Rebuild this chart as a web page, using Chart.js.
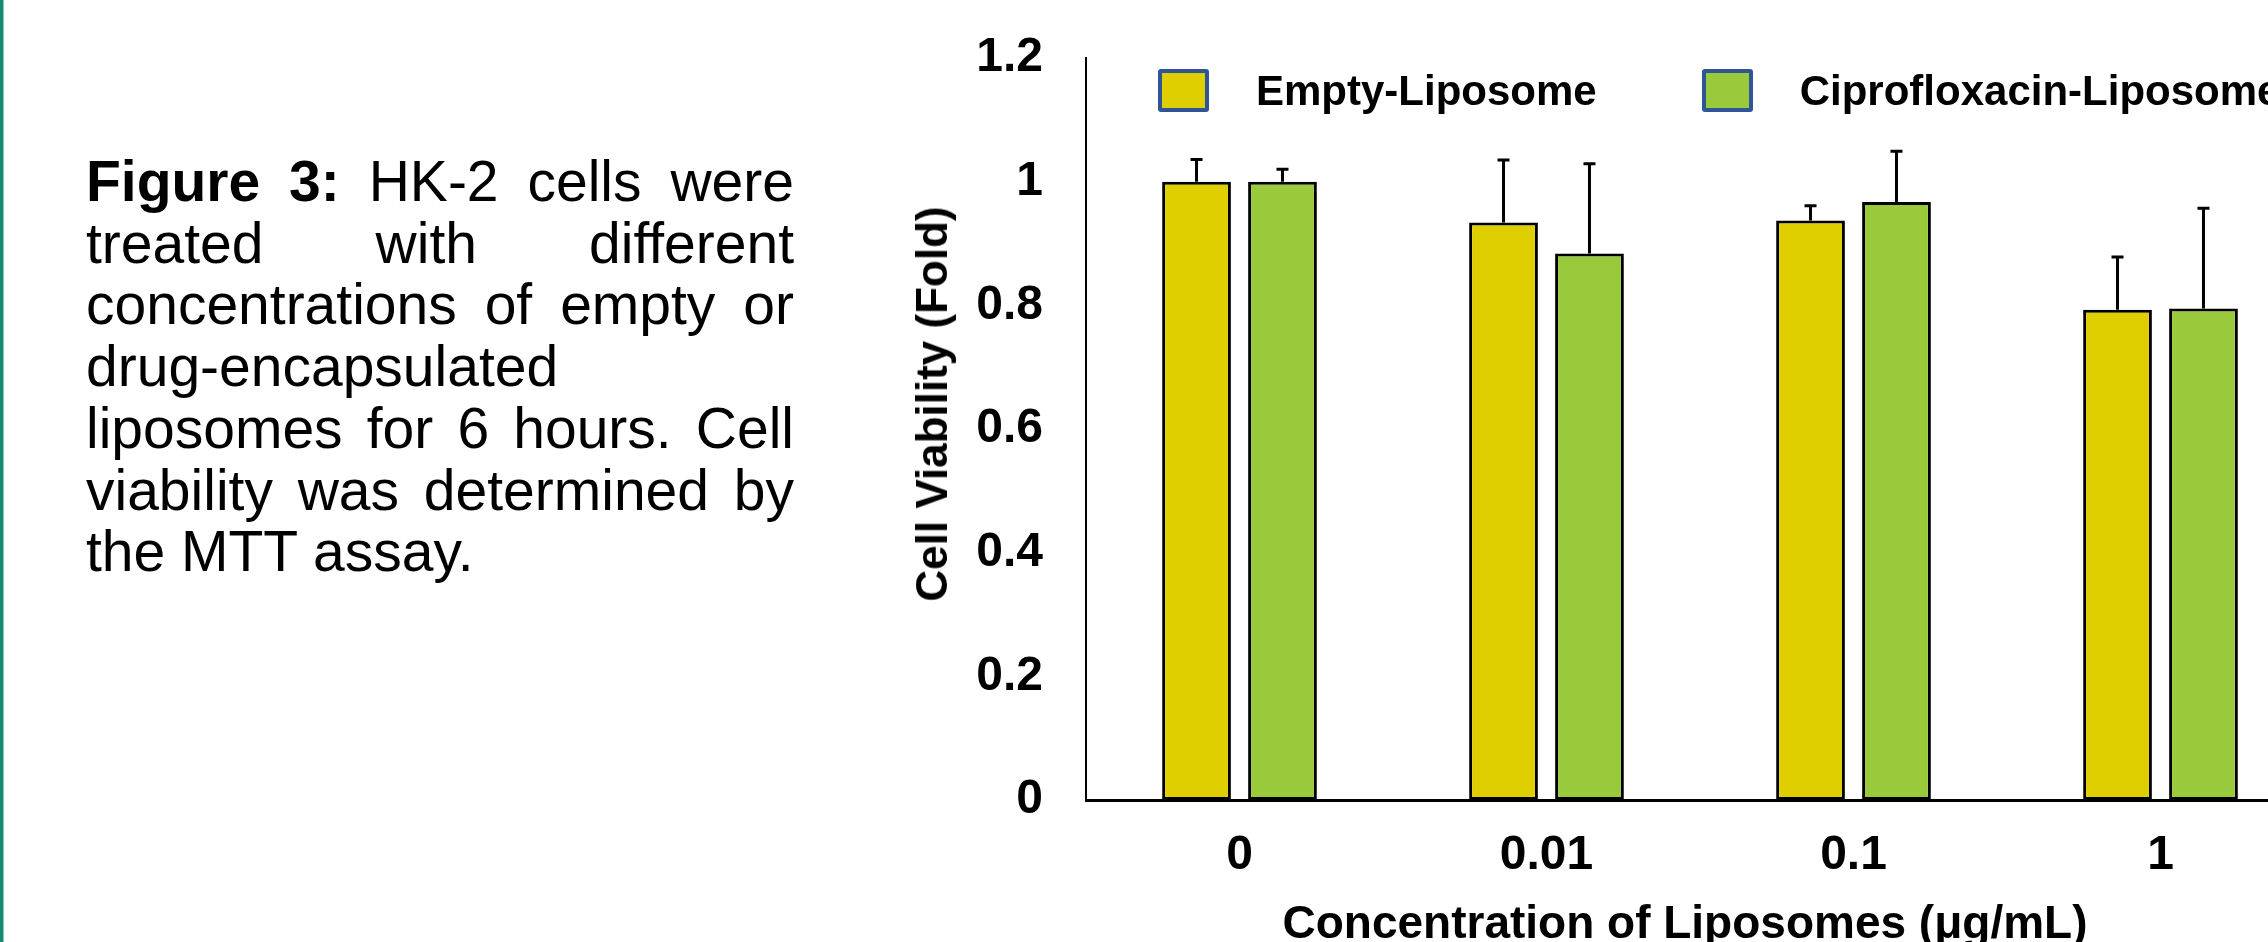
<!DOCTYPE html>
<html lang="en">
<head>
    <title>Figure 3 - Cell Viability</title>
    <script src="https://cdn.jsdelivr.net/npm/chart.js"></script>
    <style>
        html, body { margin: 0; padding: 0; background: #fff; }
        body { width: 2268px; height: 942px; overflow: hidden; position: relative; font-family: "Liberation Sans", Arial, sans-serif; }
        #edge { position: absolute; left: 0; top: 0; width: 3px; height: 942px; background: #178b6f; border-right: 1px solid #8cc5b5; }
        #caption { position: absolute; left: 86px; top: 151px; width: 708px; font-size: 57px; line-height: 61.7px; text-align: justify; color: #000; }
        #chart-container { position: absolute; left: 900px; top: 0; width: 1500px; height: 942px; }
        .axis-title { position: absolute; font-weight: bold; color: #000; white-space: nowrap; }
        #ytitle { left: 932px; top: 404px; font-size: 44px; line-height: 44px; transform: translate(-50%, -50%) rotate(-90deg); }
        #xtitle { left: 1685px; top: 899px; font-size: 46px; line-height: 46px; transform: translateX(-50%); }
        #legend { position: absolute; left: 1158px; top: 69px; display: flex; font-size: 42px; font-weight: bold; line-height: 43px; white-space: nowrap; }
        .legend-item { display: flex; margin-right: 105px; }
        .legend-box { width: 51px; height: 43px; box-sizing: border-box; border: 4px solid #2f5597; border-radius: 3px; margin-right: 47px; }
    </style>
</head>
<body>
    <div id="edge"></div>
    <div id="caption"><b>Figure 3:</b> HK-2 cells were treated with different concentrations of empty or drug-encapsulated liposomes for 6 hours. Cell viability was determined by the MTT assay.</div>

    <div id="chart-container">
        <canvas id="chart"></canvas>
    </div>
    <div id="ytitle" class="axis-title">Cell Viability (Fold)</div>
    <div id="xtitle" class="axis-title">Concentration of Liposomes (μg/mL)</div>
    <div id="legend"></div>

    <script>
        // values
        var concentrations = ['0', '0.01', '0.1', '1'];
        var seriesNames = ['Empty-Liposome', 'Ciprofloxacin-Liposome'];
        var emptyViability = [1.0, 0.934, 0.937, 0.793];
        var emptyError = [0.036, 0.101, 0.024, 0.085];
        var ciproViability = [1.0, 0.884, 0.967, 0.795];
        var ciproError = [0.020, 0.145, 0.082, 0.162];
        var yTickLabels = ['0', '0.2', '0.4', '0.6', '0.8', '1', '1.2'];

        var colors = ['#dfcf00', '#99ca3c'];
        var errors = [emptyError, ciproError];

        // simple upward error bars
        var errorBars = {
            id: 'errorBars',
            afterDatasetsDraw: function(chart) {
                var ctx = chart.ctx;
                var yScale = chart.scales.y;
                ctx.save();
                ctx.strokeStyle = '#000';
                ctx.lineWidth = 3;
                chart.data.datasets.forEach(function(ds, i) {
                    var meta = chart.getDatasetMeta(i);
                    meta.data.forEach(function(bar, j) {
                        var top = yScale.getPixelForValue(ds.data[j] + errors[i][j]);
                        ctx.beginPath();
                        ctx.moveTo(bar.x, bar.y);
                        ctx.lineTo(bar.x, top);
                        ctx.moveTo(bar.x - 6, top);
                        ctx.lineTo(bar.x + 6, top);
                        ctx.stroke();
                    });
                });
                ctx.restore();
            }
        };

        var tickFont = { family: '"Liberation Sans", Arial, sans-serif', size: 48, weight: 'bold' };

        var chart = new Chart(document.getElementById('chart').getContext('2d'), {
            type: 'bar',
            data: {
                labels: concentrations,
                datasets: [{
                    label: seriesNames[0],
                    data: emptyViability,
                    backgroundColor: colors[0],
                    borderColor: '#000',
                    borderWidth: 3,
                    borderSkipped: false
                }, {
                    label: seriesNames[1],
                    data: ciproViability,
                    backgroundColor: colors[1],
                    borderColor: '#000',
                    borderWidth: 3,
                    borderSkipped: false
                }]
            },
            options: {
                responsive: true,
                maintainAspectRatio: false,
                animation: false,
                datasets: { bar: { categoryPercentage: 0.56, barPercentage: 0.8 } },
                layout: { padding: { top: 58, right: 86, left: 0, bottom: 0 } },
                plugins: { legend: { display: false }, tooltip: { enabled: false } },
                scales: {
                    x: {
                        grid: { display: false, drawTicks: false },
                        border: { display: true, color: '#000', width: 3 },
                        ticks: { color: '#000', font: tickFont, padding: 27, maxRotation: 0 },
                        afterFit: function(scale) { scale.height = 142; }
                    },
                    y: {
                        min: 0,
                        max: 1.2,
                        grid: { display: false, drawTicks: false },
                        border: { display: true, color: '#000', width: 2 },
                        ticks: {
                            stepSize: 0.2,
                            color: '#000',
                            font: tickFont,
                            padding: 43,
                            callback: function(value, index) { return yTickLabels[index]; }
                        },
                        afterFit: function(scale) {
                            scale.width = 186;
                            scale.paddingTop = 0;
                            scale.paddingBottom = 0;
                        }
                    }
                }
            },
            plugins: [errorBars]
        });

        // legend built from the series names
        var legend = document.getElementById('legend');
        seriesNames.forEach(function(name, i) {
            var item = document.createElement('div');
            item.className = 'legend-item';
            var box = document.createElement('div');
            box.className = 'legend-box';
            box.style.background = colors[i];
            var text = document.createElement('span');
            text.textContent = name;
            item.appendChild(box);
            item.appendChild(text);
            legend.appendChild(item);
        });
    </script>
</body>
</html>
